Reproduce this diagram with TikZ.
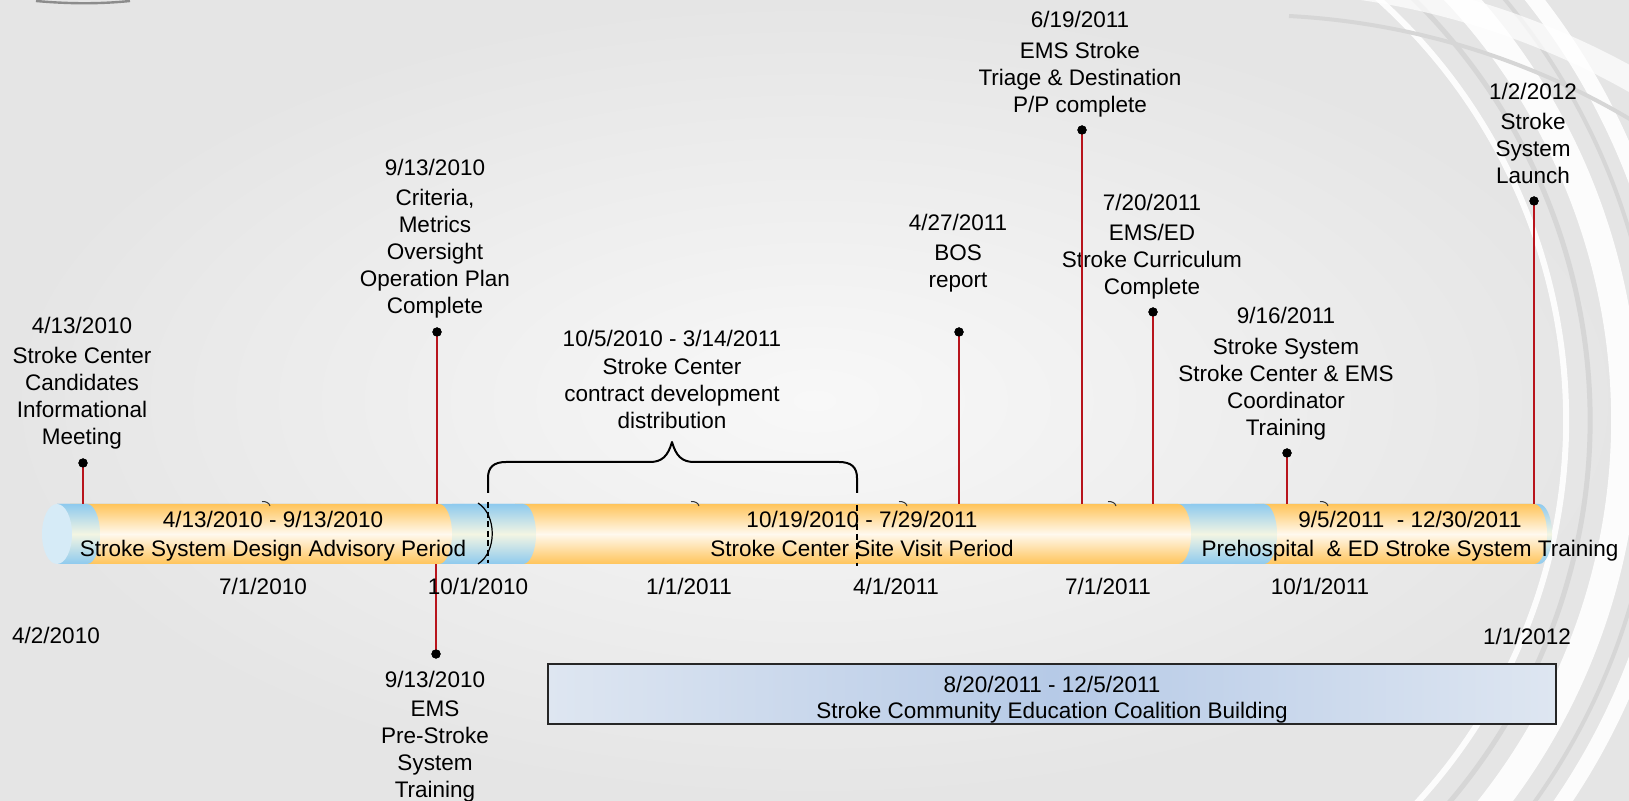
\documentclass[tikz,border=0pt]{standalone}
\usepackage{fontspec}
\setmainfont{Liberation Sans}
\definecolor{bgin}{HTML}{F8F8F8}
\definecolor{bgout}{HTML}{E5E5E5}
\definecolor{swgray}{HTML}{D6D6D6}
\definecolor{orng}{HTML}{FFC45A}
\definecolor{orngmid}{HTML}{FFF9EE}
\definecolor{blu}{HTML}{8ECAEE}
\definecolor{blumid}{HTML}{F3F5E3}
\definecolor{bluface}{HTML}{D6EBF7}
\definecolor{stemred}{HTML}{B8141C}
\definecolor{boxmid}{HTML}{B6CAE7}
\definecolor{boxedge}{HTML}{DEE6F1}
\tikzset{
  lbl/.style={font=\fontsize{11.25}{13.5}\selectfont, align=center, inner sep=0pt, anchor=north, text=black},
  axl/.style={font=\fontsize{11.25}{13.5}\selectfont, inner sep=0pt},
  dotnode/.style={circle, fill=black, inner sep=0pt, minimum size=4.6pt},
  stemline/.style={draw=stemred, line width=0.75pt},
  orseg/.style={top color=orng, bottom color=orng, middle color=orngmid},
  blseg/.style={top color=blu, bottom color=blu, middle color=blumid},
  bracestyle/.style={draw=black, line width=1pt, line join=round},
  divider/.style={draw=black, line width=1.3pt, dash pattern=on 3pt off 1.8pt},
  tickmk/.style={draw=black!80, line width=0.5pt},
  edubox/.style={draw=black!85, line width=0.8pt, left color=boxedge, right color=boxedge, middle color=boxmid, minimum width=504pt, minimum height=30pt, inner sep=0pt},
  edulbl/.style={font=\fontsize{11.25}{13}\selectfont, align=center, inner sep=0pt, anchor=north}
}
\begin{document}
\begin{tikzpicture}[x=0.5pt,y=-0.5pt]
\useasboundingbox (0,0) rectangle (1629,801);
% background
\shade[inner color=bgin, outer color=bgout] (0,0) rectangle (1629,801);
\begin{scope}
  \clip (0,0) rectangle (1629,801);
  \draw[swgray, line width=2.5pt] (1000,420) ++(-65:590) arc[start angle=-65, end angle=65, radius=590];
  \draw[white, line width=3pt, opacity=0.9] (1000,420) ++(-65:566) arc[start angle=-65, end angle=65, radius=566];
  \draw[white, line width=14pt, opacity=0.9] (1000,420) ++(-65:625) arc[start angle=-65, end angle=65, radius=625];
  \draw[swgray, line width=2pt] (1000,420) ++(-65:657) arc[start angle=-65, end angle=65, radius=657];
  \draw[white, line width=8pt, opacity=0.9] (1000,420) ++(-65:680) arc[start angle=-65, end angle=65, radius=680];
  \draw[white, line width=12pt, opacity=0.7] (1250,760) ++(-87:780) arc[start angle=-87, end angle=-40, radius=780];
  \draw[swgray, line width=2pt] (1250,760) ++(-87:745) arc[start angle=-87, end angle=-40, radius=745];
\end{scope}
\draw[black!45, line width=1.2pt] (36,1) .. controls (70,4) and (100,4) .. (130,1);

% main bar
\path[blseg] (57,504) -- (1539,504) arc[start angle=-90, end angle=90, x radius=13, y radius=30] -- (57,564) -- cycle;
\path[orseg] (70,504) -- (439,504) arc[start angle=-90, end angle=90, x radius=13, y radius=30] -- (70,564) -- cycle;
\path[orseg] (515,504) -- (1178,504) arc[start angle=-90, end angle=90, x radius=13, y radius=30] -- (515,564) -- cycle;
\path[orseg] (1255,504) -- (1534,504) arc[start angle=-90, end angle=90, x radius=13, y radius=30] -- (1255,564) -- cycle;
\path[blseg] (57,504) -- (87,504) arc[start angle=-90, end angle=90, x radius=13, y radius=30] -- (57,564) -- cycle;
\path[blseg] (452,504) -- (523,504) arc[start angle=-90, end angle=90, x radius=13, y radius=30] -- (452,564) -- cycle;
\path[blseg] (1191,504) -- (1264,504) arc[start angle=-90, end angle=90, x radius=13, y radius=30] -- (1191,564) -- cycle;
\fill[bluface] (57,534) ellipse[x radius=15, y radius=30];

% small ticks on top of bar
\foreach \tx in {266,695,903,1112,1324}
  \draw[tickmk] (\tx-4,501.5) .. controls (\tx,501.5) and (\tx+3,502.5) .. (\tx+4,506);

% texts inside bar
\node[lbl] (t1) at (273,511) {4/13/2010 - 9/13/2010\\[1pt]Stroke System Design Advisory Period};
\node[lbl] (t2) at (862,511) {10/19/2010 - 7/29/2011\\[1pt]Stroke Center Site Visit Period};
\node[lbl] (t3) at (1410,511) {9/5/2011~ - 12/30/2011\\[1pt]Prehospital~ \& ED Stroke System Training};

% brace and dividers
\draw[bracestyle] (488,493) -- (488,478) .. controls (488,467) and (494,462) .. (506,462) -- (650,462) .. controls (662,462) and (668,456) .. (672,442) .. controls (676,456) and (682,462) .. (694,462) -- (839,462) .. controls (851,462) and (857,467) .. (857,478) -- (857,493);
\draw[black, line width=0.6pt] (478,503) .. controls (497,515) and (497,552) .. (478,564);
\draw[divider] (488,502) -- (488,563);
\draw[divider] (857,505) -- (857,566);

% milestone labels
\node[lbl] (l1) at (82,317) {4/13/2010\\[1.5pt]Stroke Center\\Candidates\\Informational\\Meeting};
\node[lbl] (l2) at (435,159) {9/13/2010\\[1.5pt]Criteria,\\Metrics\\Oversight\\Operation Plan\\Complete};
\node[lbl] (l3) at (672,330) {10/5/2010 - 3/14/2011\\[0.5pt]Stroke Center\\contract development\\distribution};
\node[lbl] (l4) at (958,214) {4/27/2011\\[1.5pt]BOS\\report};
\node[lbl] (l5) at (1080,11) {6/19/2011\\[2pt]EMS Stroke\\Triage \& Destination\\P/P complete};
\node[lbl] (l6) at (1152,194) {7/20/2011\\[1.5pt]EMS/ED\\Stroke Curriculum\\Complete};
\node[lbl] (l7) at (1286,307) {9/16/2011\\[2pt]Stroke System\\Stroke Center \& EMS\\Coordinator\\Training};
\node[lbl] (l8) at (1533,83) {1/2/2012\\[1.5pt]Stroke\\System\\Launch};
\node[lbl] (l9) at (435,671) {9/13/2010\\[1pt]EMS\\Pre-Stroke\\System\\Training};

% stems and dots
\coordinate (b1) at (83,504);
\coordinate (b2) at (437,504);
\coordinate (b3) at (436,564);
\coordinate (b4) at (959,504);
\coordinate (b5) at (1082,504);
\coordinate (b6) at (1153,504);
\coordinate (b7) at (1287,504);
\coordinate (b8) at (1534,504);
\node[dotnode] (d1) at (83,463) {};
\node[dotnode] (d2) at (437,332) {};
\node[dotnode] (d3) at (436,654) {};
\node[dotnode] (d4) at (959,332) {};
\node[dotnode] (d5) at (1082,130) {};
\node[dotnode] (d6) at (1153,312) {};
\node[dotnode] (d7) at (1287,453) {};
\node[dotnode] (d8) at (1534,201) {};
\foreach \i in {1,...,8} \draw[stemline] (d\i.center) -- (b\i);
\foreach \i in {1,...,8} \node[dotnode] at (d\i) {};

% axis dates
\node[axl] (a1) at (263,586) {7/1/2010};
\node[axl] (a2) at (478,586) {10/1/2010};
\node[axl] (a3) at (689,586) {1/1/2011};
\node[axl] (a4) at (896,586) {4/1/2011};
\node[axl] (a5) at (1108,586) {7/1/2011};
\node[axl] (a6) at (1320,586) {10/1/2011};
\node[axl] (a7) at (56,635) {4/2/2010};
\node[axl] (a8) at (1527,636) {1/1/2012};

% education box
\node[edubox] (edu) at (1052,694) {};
\node[edulbl] (edut) at (1052,676) {8/20/2011 - 12/5/2011\\Stroke Community Education Coalition Building};
\end{tikzpicture}
\end{document}
